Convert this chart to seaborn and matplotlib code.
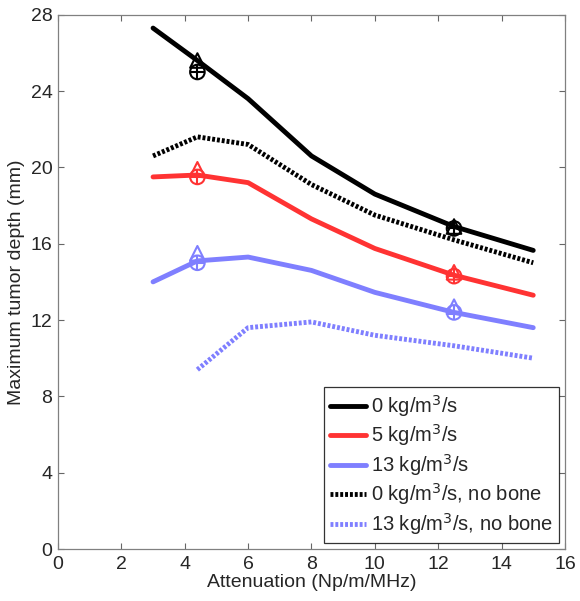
import matplotlib
matplotlib.use("Agg")
import matplotlib.pyplot as plt
import seaborn as sns

atten = [3, 4.4, 6, 8, 10, 12.5, 15]
depth_0 = [27.3, 25.6, 23.6, 20.6, 18.6, 16.9, 15.65]
depth_5 = [19.5, 19.6, 19.2, 17.3, 15.75, 14.35, 13.3]
depth_13 = [14.0, 15.1, 15.3, 14.6, 13.45, 12.4, 11.6]
depth_0_nobone = [20.6, 21.6, 21.2, 19.1, 17.5, 16.2, 15.0]
atten_13_nobone = [4.4, 6, 8, 10, 12.5, 15]
depth_13_nobone = [9.4, 11.6, 11.9, 11.2, 10.65, 10.0]

# markers at selected attenuations
mark_x = [4.4, 12.5]
tri_0 = [25.6, 16.9]
circ_0 = [25.0, 16.8]
tri_5 = [19.9, 14.5]
circ_5 = [19.5, 14.3]
tri_13 = [15.5, 12.7]
circ_13 = [15.0, 12.4]

black = "#000000"
red = "#ff3333"
blue = "#7f7fff"

sns.set_style("ticks")
plt.rcParams['font.family'] = ['Arial', 'Liberation Sans', 'DejaVu Sans']

fig = plt.figure(figsize=(5.8, 6.01), dpi=100)
ax = fig.add_axes([0.1, 0.0865, 0.874, 0.889])

lw = 3.5
dot = (0, (0.6, 0.4))
sns.lineplot(x=atten, y=depth_0, ax=ax, color=black, lw=lw, label="0 kg/m$^3$/s")
sns.lineplot(x=atten, y=depth_5, ax=ax, color=red, lw=lw, label="5 kg/m$^3$/s")
sns.lineplot(x=atten, y=depth_13, ax=ax, color=blue, lw=lw, label="13 kg/m$^3$/s")
sns.lineplot(x=atten, y=depth_0_nobone, ax=ax, color=black, lw=lw, linestyle=dot,
             label="0 kg/m$^3$/s, no bone")
sns.lineplot(x=atten_13_nobone, y=depth_13_nobone, ax=ax, color=blue, lw=lw, linestyle=dot,
             label="13 kg/m$^3$/s, no bone")

for tri, circ, c in [(tri_0, circ_0, black), (tri_5, circ_5, red), (tri_13, circ_13, blue)]:
    ax.scatter(mark_x, tri, marker="^", s=110, facecolors="none", edgecolors=c, linewidths=1.5, zorder=5)
    ax.scatter(mark_x, circ, marker="o", s=110, facecolors="none", edgecolors=c, linewidths=1.5, zorder=5)
    ax.scatter(mark_x, circ, marker="+", s=110, color=c, linewidths=1.5, zorder=5)

ax.set_xlim(0, 16)
ax.set_ylim(0, 28)
ax.set_xticks(range(0, 17, 2))
ax.set_yticks(range(0, 29, 4))
ax.tick_params(direction="in", top=True, right=True, labelsize=14, length=4,
               color="#666666")
ax.tick_params(axis="x", pad=5)
ax.tick_params(axis="y", pad=4)
for s in ax.spines.values():
    s.set_color("#808080")
    s.set_linewidth(0.9)
ax.set_xlabel("Attenuation (Np/m/MHz)", fontsize=14, labelpad=1)
ax.set_ylabel("Maximum tumor depth (mm)", fontsize=14, labelpad=4)

leg = ax.legend(loc="lower right", fontsize=14.5, frameon=True, fancybox=False,
                edgecolor="black", handlelength=1.8, handletextpad=0.25,
                borderaxespad=0.3, labelspacing=0.18, borderpad=0.3)
leg.get_frame().set_linewidth(0.9)

fig.savefig("out.png", dpi=100)
